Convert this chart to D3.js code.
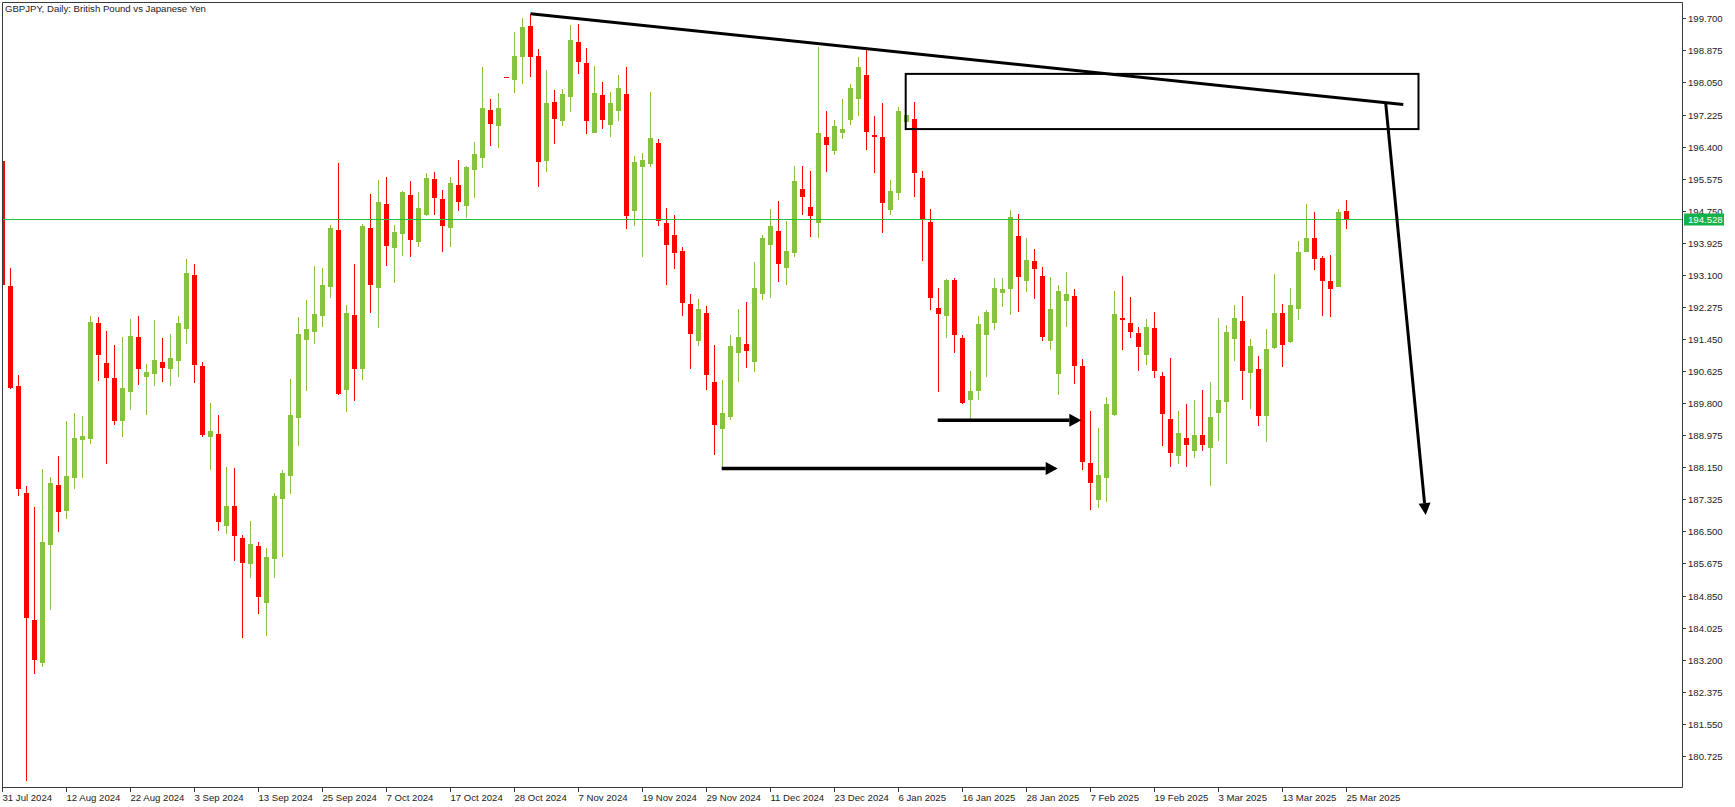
<!DOCTYPE html>
<html>
<head>
<meta charset="utf-8">
<script src="https://cdn.jsdelivr.net/npm/d3@7"></script>
<style>
  html, body { margin: 0; padding: 0; background: #fff; }
  svg { display: block; }
  text { font-family: "Liberation Sans", Arial, sans-serif; }
</style>
</head>
<body>
<svg id="chart" width="1735" height="807"></svg>
<script>
// ---- DATA (GBPJPY daily) ----
const opens = [196.03,192.82,190.24,187.49,184.23,183.12,186.15,187.69,187.03,187.88,188.84,188.89,191.86,190.83,190.44,189.33,190.09,191.50,190.47,190.55,190.86,190.67,190.88,191.71,193.10,190.76,188.93,189.00,186.65,187.15,186.33,185.65,186.12,184.67,185.80,187.34,187.93,189.43,191.43,191.64,192.05,192.78,194.25,190.14,192.06,190.68,194.30,192.77,194.92,193.80,194.15,195.16,193.95,194.64,195.56,195.06,194.31,195.41,194.88,195.81,196.11,197.34,196.94,198.19,198.12,198.71,199.50,198.73,196.03,197.55,197.06,197.68,199.09,198.55,196.75,197.73,196.96,197.32,197.75,194.74,195.87,195.95,196.49,194.43,194.13,193.71,192.35,191.41,192.12,190.34,189.14,189.45,191.10,191.32,190.87,192.62,193.88,194.23,193.28,193.67,195.31,194.85,194.44,196.65,196.29,196.75,197.08,197.62,198.24,196.70,196.65,194.77,195.21,197.03,197.11,195.59,194.46,192.25,192.05,192.97,191.48,189.89,190.11,191.54,191.86,192.63,192.74,194.10,192.94,193.46,193.07,191.40,190.55,192.43,192.56,190.76,188.26,187.31,187.87,189.49,191.99,191.86,191.60,191.05,191.73,190.50,189.39,188.43,188.90,188.58,188.98,188.65,189.55,189.84,191.46,191.91,190.58,190.67,189.47,191.21,192.12,191.37,192.23,193.69,194.05,193.54,192.95,192.80,194.74];
const highs = [196.05,193.27,190.53,187.67,187.12,188.10,187.91,188.44,189.35,189.55,189.47,192.03,192.02,191.66,191.29,191.50,191.97,192.04,190.81,191.94,191.47,191.58,192.04,193.51,193.38,190.86,189.80,189.50,188.15,188.13,186.41,186.76,186.22,186.07,187.49,188.08,190.42,192.01,192.45,193.33,193.28,194.38,195.98,192.33,193.38,194.42,195.18,195.55,195.62,194.38,195.26,195.51,195.23,195.72,195.75,195.28,195.62,196.06,195.91,196.52,198.45,197.62,197.78,198.19,199.35,199.71,199.82,198.90,198.37,197.86,197.88,199.53,199.55,198.94,198.47,198.06,197.80,198.24,198.45,196.16,196.23,197.80,196.60,194.82,194.64,193.82,192.61,192.48,192.30,191.30,190.40,191.56,192.22,192.40,193.43,194.13,194.79,195.00,194.49,195.90,195.90,195.77,198.96,197.32,197.08,197.62,198.01,198.70,198.96,197.19,197.52,195.54,197.42,197.21,197.55,195.77,194.79,192.76,192.99,193.02,191.55,190.63,192.04,192.20,193.02,193.02,194.77,194.67,194.05,193.77,193.30,193.04,192.84,193.17,192.74,190.94,189.60,189.16,189.96,192.68,193.07,192.53,191.76,191.97,192.14,190.60,190.96,189.60,189.78,189.88,190.14,190.34,191.99,191.80,192.33,192.55,191.45,191.01,191.72,193.12,192.35,192.76,193.97,194.92,194.72,193.59,193.61,194.80,195.02];
const lows = [192.80,190.16,187.40,180.09,182.82,183.02,184.48,186.48,186.82,187.59,187.87,188.75,190.37,188.24,189.23,188.93,189.63,190.26,189.50,190.24,190.35,190.24,190.47,191.32,190.32,188.93,188.09,186.52,186.43,185.75,183.75,185.31,184.38,183.80,185.31,185.85,187.45,188.71,190.12,191.33,191.77,192.50,190.02,189.57,189.86,190.40,192.12,191.74,193.33,192.88,193.58,193.57,193.81,194.62,194.64,193.69,193.81,194.74,194.57,195.09,195.86,196.42,196.37,198.17,197.78,198.02,198.20,195.36,195.75,196.47,196.93,197.29,198.27,196.72,196.75,196.85,196.65,197.06,194.28,194.36,193.56,195.87,194.36,192.84,193.25,192.04,190.68,191.28,190.15,188.47,188.11,189.37,190.35,190.71,190.61,192.46,192.51,192.92,192.84,193.56,194.64,194.08,194.05,195.75,196.18,196.60,196.96,197.19,196.31,195.72,194.18,194.64,195.03,197.03,195.10,193.46,192.20,190.09,191.48,191.10,189.79,189.39,189.89,190.48,191.68,192.27,192.07,192.14,192.66,192.48,191.40,191.17,190.01,191.76,190.29,188.08,187.05,187.10,187.26,189.47,191.17,191.48,190.63,190.79,190.45,188.71,188.16,188.24,188.16,188.40,188.58,187.67,188.83,188.24,190.89,189.89,189.66,189.20,188.80,191.19,190.74,191.34,191.94,193.68,193.23,192.05,192.02,192.80,194.28];
const closes = [192.85,190.19,187.58,184.26,183.18,186.23,187.74,187.01,187.92,188.90,188.95,191.89,191.04,190.44,189.34,190.19,191.52,190.67,190.60,190.92,190.71,190.96,191.86,193.15,190.77,188.99,189.09,186.73,187.16,186.39,185.70,186.17,184.80,185.84,187.41,188.01,189.49,191.58,191.71,192.10,192.84,194.30,190.03,192.12,190.68,194.35,192.84,194.97,193.85,194.20,195.23,194.00,194.82,195.59,195.07,194.36,195.46,194.98,195.87,196.21,197.39,196.99,197.39,198.17,198.73,199.48,198.71,196.00,197.52,197.11,197.75,199.14,198.58,197.06,197.78,197.08,197.52,197.91,194.61,196.00,196.05,196.62,194.49,193.87,193.66,192.38,191.58,192.22,190.53,189.25,189.55,191.27,191.50,191.15,192.76,194.05,194.36,193.39,193.71,195.51,195.11,194.62,196.75,196.44,196.93,196.85,197.91,198.45,196.78,196.65,194.95,195.26,197.32,197.21,195.72,194.54,192.51,192.10,192.97,191.54,189.81,190.11,191.84,192.14,192.76,192.74,194.59,193.04,193.48,193.25,191.50,192.22,192.68,192.61,190.76,188.29,187.75,187.95,189.78,192.09,191.94,191.63,191.24,191.76,190.63,189.53,188.53,189.03,188.73,188.98,188.73,189.44,189.88,191.63,191.99,190.63,191.27,189.47,191.19,192.12,191.30,192.33,193.68,194.05,193.52,192.95,192.74,194.72,194.52];

const dateTickLabels = ["31 Jul 2024","12 Aug 2024","22 Aug 2024","3 Sep 2024","13 Sep 2024","25 Sep 2024","7 Oct 2024","17 Oct 2024","28 Oct 2024","7 Nov 2024","19 Nov 2024","29 Nov 2024","11 Dec 2024","23 Dec 2024","6 Jan 2025","16 Jan 2025","28 Jan 2025","7 Feb 2025","19 Feb 2025","3 Mar 2025","13 Mar 2025","25 Mar 2025"];
const dateTickBars = [0,8,16,24,32,40,48,56,64,72,80,88,96,104,112,120,128,136,144,152,160,168];
const priceTickLabels = ["199.700","198.875","198.050","197.225","196.400","195.575","194.750","193.925","193.100","192.275","191.450","190.625","189.800","188.975","188.150","187.325","186.500","185.675","184.850","184.025","183.200","182.375","181.550","180.725"];
const currentPrice = 194.528;
const chartTitle = "GBPJPY, Daily:  British Pound vs Japanese Yen";

// hand-drawn objects (bar index, price)
const trendLine = [[65.9, 199.82], [175.0, 197.48]];
const zoneRect = [[112.8, 198.27], [176.9, 196.85]];
const dropArrow = [[172.8, 197.52], [177.8, 186.92]];
const arrowUpper = [[116.8, 189.36], [134.75, 189.36]];
const arrowLower = [[89.8, 188.12], [131.8, 188.12]];

// ---- LAYOUT ----
const W = 1735, H = 807;
const plotL = 2, plotT = 2, plotR = 1682, plotB = 787;
const svg = d3.select("#chart");
svg.append("rect").attr("width", W).attr("height", H).attr("fill", "#fff");

const x = d3.scaleLinear().domain([0, 168]).range([3.3, 1347.3]);
const y = d3.scaleLinear().domain([180.725, 199.7]).range([755.9, 18.3]);

const bull = "#84c341", bear = "#ff0000";

const defs = svg.append("defs");
defs.append("clipPath").attr("id", "plotclip").append("rect")
  .attr("x", plotL).attr("y", plotT).attr("width", plotR - plotL).attr("height", plotB - plotT);

const plot = svg.append("g").attr("clip-path", "url(#plotclip)");

const bars = d3.range(opens.length).map(i => ({i, o: opens[i], h: highs[i], l: lows[i], c: closes[i]}));
const cx = i => Math.round(x(i));

// wicks
plot.append("g").attr("shape-rendering", "crispEdges").selectAll("rect").data(bars).join("rect")
  .attr("x", d => cx(d.i) - 1)
  .attr("y", d => Math.round(y(d.h)))
  .attr("width", 1)
  .attr("height", d => Math.max(1, Math.round(y(d.l)) - Math.round(y(d.h))))
  .attr("fill", d => d.c >= d.o ? bull : bear);

// bodies
plot.append("g").attr("shape-rendering", "crispEdges").selectAll("rect").data(bars).join("rect")
  .attr("x", d => cx(d.i) - 3)
  .attr("y", d => Math.round(y(Math.max(d.o, d.c))))
  .attr("width", 5)
  .attr("height", d => Math.max(1, Math.round(y(Math.min(d.o, d.c))) - Math.round(y(Math.max(d.o, d.c)))))
  .attr("fill", d => d.c >= d.o ? bull : bear);

// current price line
plot.append("line")
  .attr("x1", plotL).attr("x2", plotR)
  .attr("y1", Math.round(y(currentPrice)) + 0.5).attr("y2", Math.round(y(currentPrice)) + 0.5)
  .attr("stroke", "#1fbf3f").attr("stroke-width", 1);

// drawings
const draw = plot.append("g").attr("stroke", "#000").attr("fill", "none");
draw.append("line")
  .attr("x1", x(trendLine[0][0])).attr("y1", y(trendLine[0][1]))
  .attr("x2", x(trendLine[1][0])).attr("y2", y(trendLine[1][1]))
  .attr("stroke-width", 3);
draw.append("rect")
  .attr("x", x(zoneRect[0][0])).attr("y", y(zoneRect[0][1]))
  .attr("width", x(zoneRect[1][0]) - x(zoneRect[0][0]))
  .attr("height", y(zoneRect[1][1]) - y(zoneRect[0][1]))
  .attr("stroke-width", 2);

function arrow(pts, sw, headLen, headHalf) {
  const x1 = x(pts[0][0]), y1 = y(pts[0][1]), x2 = x(pts[1][0]), y2 = y(pts[1][1]);
  const ang = Math.atan2(y2 - y1, x2 - x1);
  const bx = x2 - headLen * Math.cos(ang), by = y2 - headLen * Math.sin(ang);
  draw.append("line").attr("x1", x1).attr("y1", y1).attr("x2", bx).attr("y2", by).attr("stroke-width", sw);
  const px = -Math.sin(ang) * headHalf, py = Math.cos(ang) * headHalf;
  draw.append("path")
    .attr("d", `M${x2},${y2}L${bx + px},${by + py}L${bx - px},${by - py}Z`)
    .attr("fill", "#000").attr("stroke", "none");
}
arrow(dropArrow, 3, 12, 6);
arrow(arrowUpper, 3.5, 12, 6.5);
arrow(arrowLower, 3.5, 12, 6.5);

// frame
const axisColor = "#333a40";
svg.append("path")
  .attr("d", `M${plotL + 0.5},${plotB + 0.5}V${plotT + 0.5}H${plotR + 0.5}V${plotB + 0.5}H${plotL + 0.5}`)
  .attr("fill", "none").attr("stroke", axisColor).attr("stroke-width", 1);

// price axis
const yAxisG = svg.append("g");
priceTickLabels.forEach(lbl => {
  const py = Math.round(y(+lbl)) + 0.5;
  yAxisG.append("line").attr("x1", plotR).attr("x2", plotR + 4).attr("y1", py).attr("y2", py)
    .attr("stroke", axisColor);
  yAxisG.append("text").attr("x", plotR + 6).attr("y", py + 3.5)
    .attr("font-size", 9.6).attr("fill", "#222").text(lbl);
});

// current price label
const cpY = Math.round(y(currentPrice)) + 0.5;
svg.append("rect").attr("x", plotR + 2).attr("y", cpY - 6).attr("width", 40).attr("height", 12)
  .attr("fill", "#14b24a");
svg.append("text").attr("x", plotR + 6).attr("y", cpY + 3.5)
  .attr("font-size", 9.6).attr("fill", "#fff").text(currentPrice.toFixed(3));

// time axis
const xAxisG = svg.append("g");
dateTickLabels.forEach((lbl, k) => {
  const px = Math.round(x(dateTickBars[k])) - 0.5;
  xAxisG.append("line").attr("x1", px).attr("x2", px).attr("y1", plotB).attr("y2", plotB + 5)
    .attr("stroke", axisColor);
  xAxisG.append("text").attr("x", px).attr("y", plotB + 14)
    .attr("font-size", 9.6).attr("fill", "#222").text(lbl);
});

// title
svg.append("text").attr("x", 5).attr("y", 12).attr("font-size", 9.6).attr("fill", "#222").text(chartTitle);
</script>
</body>
</html>
